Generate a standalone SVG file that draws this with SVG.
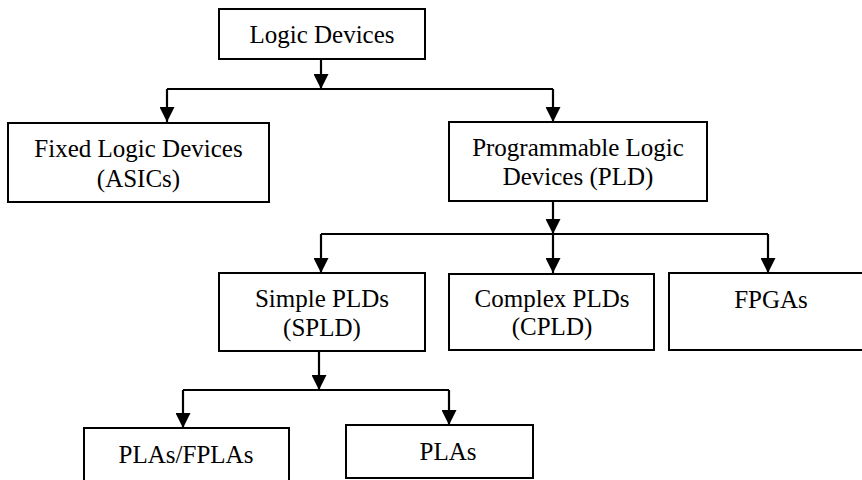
<svg xmlns="http://www.w3.org/2000/svg" width="862" height="480" viewBox="0 0 862 480">
  <style>
    .box { fill: #ffffff; stroke: #000000; stroke-width: 2; }
    .lbl { font-family: "Liberation Serif", "Times New Roman", serif; font-size: 25px; fill: #000000; text-anchor: middle; }
    .wire { fill: none; stroke: #000000; stroke-width: 2.2; }
  </style>
  <defs>
    <marker id="head" viewBox="0 0 15 15" refX="15" refY="7.5" markerWidth="15" markerHeight="15" markerUnits="userSpaceOnUse" orient="auto">
      <path d="M0,0 L15,7.5 L0,15 Z" fill="#000000"/>
    </marker>
  </defs>
  <rect width="862" height="480" fill="#ffffff"/>

  <!-- connectors -->
  <g id="connectors">
    <path class="wire" d="M321,59 V89" marker-end="url(#head)"/>
    <path class="wire" d="M167,89 H553"/>
    <path class="wire" d="M167,89 V122" marker-end="url(#head)"/>
    <path class="wire" d="M553,89 V122" marker-end="url(#head)"/>

    <path class="wire" d="M553,201 V234" marker-end="url(#head)"/>
    <path class="wire" d="M321,234 H768"/>
    <path class="wire" d="M321,234 V273" marker-end="url(#head)"/>
    <path class="wire" d="M553,234 V273" marker-end="url(#head)"/>
    <path class="wire" d="M768,234 V273" marker-end="url(#head)"/>

    <path class="wire" d="M319,351 V390" marker-end="url(#head)"/>
    <path class="wire" d="M183,390 H449"/>
    <path class="wire" d="M183,390 V428" marker-end="url(#head)"/>
    <path class="wire" d="M449,390 V425" marker-end="url(#head)"/>
  </g>

  <!-- nodes -->
  <g id="logic-devices">
    <rect class="box" x="219" y="9" width="206" height="50"/>
    <text class="lbl" x="322" y="43">Logic Devices</text>
  </g>
  <g id="fixed-logic">
    <rect class="box" x="8" y="123" width="261" height="79"/>
    <text class="lbl" x="138.5" y="157">Fixed Logic Devices</text>
    <text class="lbl" x="138.5" y="187">(ASICs)</text>
  </g>
  <g id="pld">
    <rect class="box" x="449" y="122" width="258" height="79"/>
    <text class="lbl" x="578" y="156">Programmable Logic</text>
    <text class="lbl" x="578" y="185">Devices (PLD)</text>
  </g>
  <g id="spld">
    <rect class="box" x="219" y="273" width="206" height="78"/>
    <text class="lbl" x="322" y="307">Simple PLDs</text>
    <text class="lbl" x="322" y="336">(SPLD)</text>
  </g>
  <g id="cpld">
    <rect class="box" x="449" y="274" width="205" height="76"/>
    <text class="lbl" x="552" y="307">Complex PLDs</text>
    <text class="lbl" x="552" y="335">(CPLD)</text>
  </g>
  <g id="fpga">
    <rect class="box" x="669" y="273" width="204" height="77"/>
    <text class="lbl" x="771" y="308">FPGAs</text>
  </g>
  <g id="pla-fpla">
    <rect class="box" x="84" y="428" width="205" height="60"/>
    <text class="lbl" x="186" y="463">PLAs/FPLAs</text>
  </g>
  <g id="pla">
    <rect class="box" x="346" y="425" width="187" height="53"/>
    <text class="lbl" x="448" y="460">PLAs</text>
  </g>
</svg>
